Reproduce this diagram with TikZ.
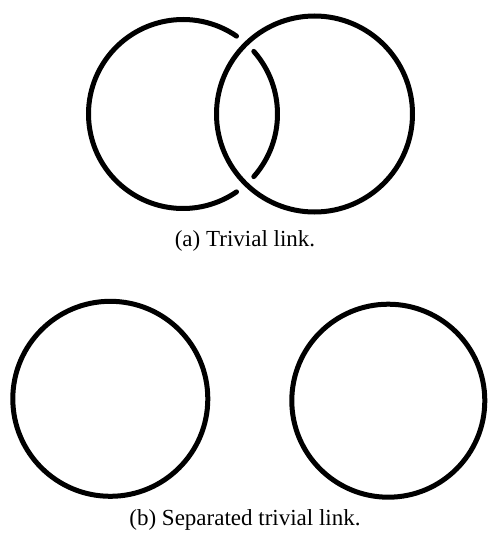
\documentclass[tikz,border=0pt]{standalone}
\usepackage{fontspec}
\setmainfont{Liberation Serif}
\begin{document}
\begin{tikzpicture}[x=1pt,y=1pt,
  strand/.style={line width=5pt,line cap=round,black},
  caption/.style={font=\fontsize{23}{27}\selectfont,inner sep=0pt,anchor=center}]
\useasboundingbox (0,0) rectangle (490,-538);
% (a) trivial link
\coordinate (A1) at (183,-114);
\coordinate (A2) at (314.5,-114);
\draw[strand] (A1) ++(55.5:94.5) arc[start angle=55.5,end angle=304.5,radius=94.5];
\draw[strand] (A1) ++(41.5:94.5) arc[start angle=41.5,end angle=-41.5,radius=94.5];
\draw[strand] (A2) circle[radius=98];
\node[caption] (capa) at (245,-241) {(a) Trivial link.};
% (b) separated trivial link
\coordinate (B1) at (110.3,-398.8);
\coordinate (B2) at (388.3,-400.7);
\draw[strand] (B1) circle[radius=97.5];
\draw[strand] (B2) circle[radius=96.5];
\node[caption] (capb) at (245,-520) {(b) Separated trivial link.};
\end{tikzpicture}
\end{document}
